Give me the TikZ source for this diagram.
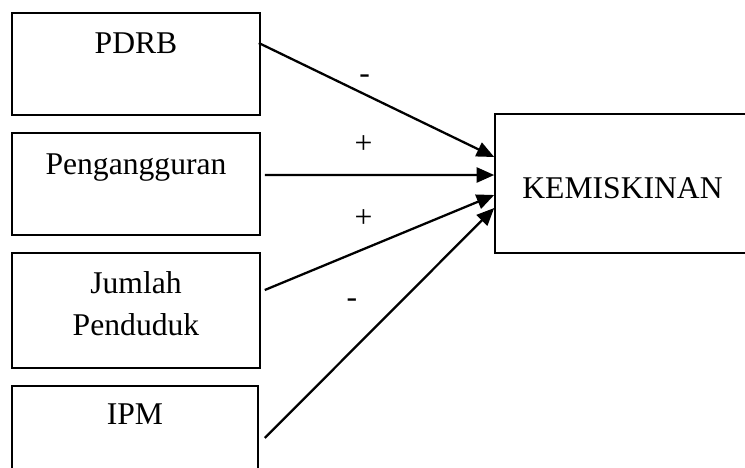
\documentclass[tikz,border=0pt]{standalone}
\usepackage{fontspec}
\setmainfont{Liberation Serif}
\usetikzlibrary{positioning, arrows.meta}

\begin{document}
\begin{tikzpicture}[
    >={Triangle[length=3.5mm, width=3mm]},
    box/.style={rectangle, draw=black, line width=0.9pt, minimum width=4.96cm,
                inner sep=0pt},
    txt/.style={font=\fontsize{18}{23.9}\selectfont, inner sep=0pt, align=center},
    arrow/.style={->, line width=1.3pt, black},
    sign/.style={font=\fontsize{18}{22}\selectfont, inner sep=0pt},
]
\useasboundingbox (0,0) rectangle (14.9,-9.34);

% Left column: the four variables
\node[box, minimum height=2.04cm] (pdrb) at (2.72,-1.28) {};
\node[box, minimum height=2.04cm] (peng) at (2.72,-3.68) {};
\node[box, minimum height=2.30cm] (jumlah) at (2.72,-6.21) {};
\node[box, minimum height=2.08cm, minimum width=4.92cm] (ipm) at (2.70,-8.76) {};

% Right: dependent variable
\node[box, minimum width=5.1cm, minimum height=2.78cm] (kemiskinan) at (12.45,-3.67) {};

% Texts in the boxes
\node[txt, anchor=base] (pdrbtxt) at ([yshift=-0.82cm]pdrb.north) {PDRB};
\node[txt, anchor=base] (pengtxt) at ([yshift=-0.84cm]peng.north) {Pengangguran};
\node[txt, anchor=base] (jumlahtxt) at ([yshift=-0.82cm]jumlah.north) {Jumlah};
\node[txt, anchor=base] (penduduktxt) at ([yshift=-0.84cm]jumlahtxt.base) {Penduduk};
\node[txt, anchor=base] (ipmtxt) at ([yshift=-0.78cm]ipm.north) {IPM};
\node[txt, anchor=base] (kemtxt) at ([yshift=-1.70cm]kemiskinan.north) {KEMISKINAN};

% === Arrows ===
\draw[arrow] ([xshift=-0.04cm, yshift=0.42cm]pdrb.east) -- ([yshift=0.53cm]kemiskinan.west)
    node[sign, pos=0.45, yshift=0.30cm] {-};
\draw[arrow] ([xshift=0.08cm, yshift=0.18cm]peng.east) -- ([yshift=0.17cm]kemiskinan.west)
    node[sign, pos=0.43, yshift=0.60cm] {+};
\draw[arrow] ([xshift=0.08cm, yshift=0.41cm]jumlah.east) -- ([yshift=-0.23cm]kemiskinan.west)
    node[sign, pos=0.43, yshift=0.62cm] {+};
\draw[arrow] ([xshift=0.12cm]ipm.east) -- ([yshift=-0.49cm]kemiskinan.west)
    node[sign, pos=0.38, yshift=0.94cm] {-};

\end{tikzpicture}
\end{document}
